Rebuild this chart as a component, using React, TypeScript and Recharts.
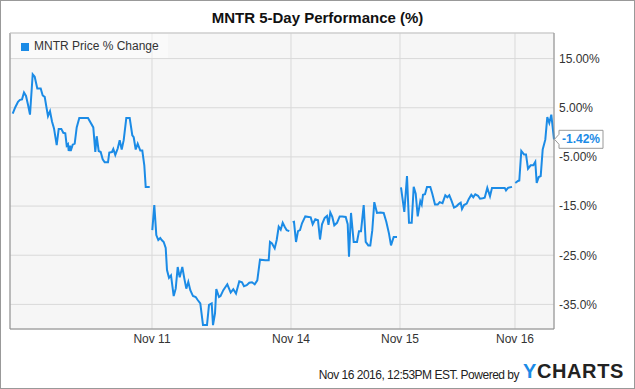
import React from 'react';
import { LineChart, Line, XAxis, YAxis, CartesianGrid, ReferenceLine, LabelList } from 'recharts';

// position along the session axis (sample index) and % change; null = session break
const times = [
  2.7, 5.3, 8, 10, 12, 14, 16, 18, 20, 22.7, 24.7, 27.3, 30.7, 32.7, 34.7, 36.7, 38, 40, 42, 44,
  46.7, 48.7, 51.3, 53.3, 55.3, 56.7, 58, 58.7, 60, 60.7, 62.7, 64.7, 66.7, 69.3, 78, 83.3, 85.3, 86.7, 88.7, 90.7,
  92.7, 94.7, 98, 99.3, 102, 103.3, 105.3, 107.7, 109.7, 111.7, 113.7, 116.3, 119.7, 122.3, 123.7, 125.7, 127.7, 130.3, 132.3, 134.3,
  135.7, 139.7, 141,
  142.3, 144.3, 146.3, 148.3, 150.3, 151.7, 153.7, 155.7, 157, 159, 161, 163.7, 165.7, 167.7, 169.7, 172.3, 174.3, 176.3, 178.3, 180.3,
  183, 185.7, 187.7, 190.3, 193, 197, 199, 201.7, 203, 205, 206.3, 209, 210.5, 213.3, 217.3, 220.7, 223.3, 226, 229.3, 232,
  234, 236.7, 239.3, 242, 244.7, 247.3, 250, 255.3, 258.7, 260, 262, 264.7, 266.7, 268.7, 270.7, 272.7, 274.7, 276.7, 279.3, 281,
  282.7, 284, 286, 288, 290, 292, 295.3, 298.7, 300.7, 302.7, 305.3, 308, 310, 312, 314.7, 317, 318.5, 320.3, 322.3, 324.3,
  327, 329.7, 332.3, 335.7, 337.7, 339, 341, 343.7, 347, 349, 351, 353.7, 355.7, 358.3, 360.3, 362.3, 364.3, 367, 370.3, 373.7,
  376.3, 379, 381, 383.7, 387, 389,
  391, 394.3, 397, 399, 401.7, 403.7, 405.7, 407.7, 410.3, 411.7, 413, 415, 417, 420.3, 422.3, 425, 427.7, 429.7, 432.5, 435.3,
  437.3, 439.3, 441.3, 444, 446.7, 448.7, 450.7, 452, 454, 456.7, 458.7, 461.3, 463.3, 465.3, 468, 470, 472.7, 474.7, 477.3, 480,
  482, 494.7, 496, 498, 502, 504,
  505.3, 508, 509.3, 511.3, 514, 516, 518, 520.7, 523.3, 525.3, 526.7, 528.7, 530.7, 532.7, 535.3, 537.3, 539.3, 541.3, 544,
];

const pctChange = [
  3.8, 5.1, 6.2, 6.6, 6.7, 8.1, 7.4, 5.6, 3.6, 11.8, 11.3, 8.9, 8.9, 7.5, 7.2, 4.8, 3.3, 4.3, 2.2, 0.8,
  -2.6, 0.7, 0.7, -0.1, -0.2, -2.7, -2.4, -3.8, -2.7, -3.8, -2.5, -2.3, 1.0, 2.9, 2.9, 1.0, -4.0, -0.8, -3.8, -4.0,
  -5.5, -6.1, -6.1, -4.1, -4.0, -3.4, -4.6, -3.3, -1.6, -3.5, -1.6, 2.9, 2.9, -0.6, -1.0, -3.5, -2.3, -3.7, -3.7, -6.7,
  -11.1, -11.1, null,
  -19.9, -14.8, -20.9, -21.9, -21.5, -21.9, -22.3, -23.5, -28.0, -29.6, -29.1, -33.3, -31.8, -27.4, -29.5, -27.4, -29.7, -31.8, -30.4, -32.1,
  -33.3, -33.5, -34.1, -34.8, -39.2, -39.2, -35.1, -34.8, -39.2, -36.8, -31.9, -33.5, -33.3, -32.1, -30.9, -32.6, -31.9, -32.8, -30.3, -30.5,
  -31.3, -31.1, -30.6, -30.5, -30.9, -30.1, -25.9, -26.0, -26.0, -22.3, -22.6, -23.6, -21.9, -19.2, -19.8, -18.4, -19.2, -19.9, -20.1, null,
  -18.3, -18.2, -22.3, -20.1, -19.9, -18.5, -17.1, -17.2, -17.3, -18.7, -17.7, -17.9, -21.8, -18.7, -17.4, -17.0, -18.8, -16.3, -17.2, -18.9,
  -18.4, -17.1, -17.1, -17.2, -18.7, -25.3, -16.4, -22.3, -22.3, -20.1, -20.1, -14.8, -22.3, -23.0, -23.0, -19.9, -14.2, -16.4, -16.3, -16.4,
  -18.2, -20.6, -23.0, -21.3, -21.3, null,
  -11.2, -16.2, -8.9, -18.4, -18.4, -11.1, -12.5, -17.1, -14.0, -14.7, -12.7, -12.6, -11.1, -11.1, -12.5, -14.7, -14.7, -14.2, -14.4, -12.8,
  -13.2, -12.8, -13.8, -15.3, -15.0, -14.6, -14.3, -15.6, -14.8, -14.5, -13.6, -12.7, -13.2, -12.6, -12.9, -13.5, -13.4, -13.3, -11.3, -13.0,
  -11.3, -11.3, -11.8, -11.3, -11.1, null,
  -10.3, -9.9, -9.8, -3.8, -4.5, -4.5, -7.4, -6.7, -6.7, -6.0, -10.3, -9.1, -8.9, -3.5, -1.5, 3.1, 1.9, 3.6, -1.42,
];

const xTicks = [142, 281, 390, 505];
const xTickLabels = ['Nov 11', 'Nov 14', 'Nov 15', 'Nov 16'];
const yTicks = [15, 5, -5, -15, -25, -35];
const yTickLabels = ['15.00%', '5.00%', '-5.00%', '-15.0%', '-25.0%', '-35.0%'];

const data = times.map((t, i) => ({ t, v: pctChange[i] }));

const BLUE = '#1b8be6';
const FONT = '"Liberation Sans", Arial, sans-serif';

function EndLabel(props: any) {
  const { x, y, index, value } = props;
  if (index !== data.length - 1 || value == null) return null;
  const x0 = x + 5;
  const w = 44;
  const h = 18;
  const top = y - h / 2;
  const path = `M${x0},${top} H${x0 + w} V${top + h} H${x0} V${y + 5} L${x + 0.5},${y} L${x0},${y - 5} Z`;
  return (
    <g>
      <path d={path} fill="#fff" stroke="#999" strokeWidth={1} />
      <text x={x0 + w / 2} y={y + 4} textAnchor="middle" fill={BLUE} fontWeight="bold" fontSize={12} fontFamily={FONT}>
        {value.toFixed(2)}%
      </text>
    </g>
  );
}

export default function App() {
  return (
    <div style={{ position: 'absolute', left: 0, top: 0, width: 635, height: 389, background: '#fff', fontFamily: FONT }}>
      <LineChart width={635} height={389} data={data} margin={{ top: 33, right: 6, left: 10, bottom: 30 }}>
        <CartesianGrid fill="#f6f6f6" stroke="#d9d9d9" />
        <XAxis
          dataKey="t"
          type="number"
          domain={[0, 544]}
          ticks={xTicks}
          tickFormatter={(v) => xTickLabels[xTicks.indexOf(v)]}
          height={30}
          tickLine={false}
          tickSize={3}
          tickMargin={2}
          axisLine={{ stroke: '#8a8a8a' }}
          tick={{ fill: '#333', fontSize: 12, fontFamily: FONT }}
        />
        <YAxis
          orientation="right"
          type="number"
          domain={[-40, 20.2]}
          allowDataOverflow
          ticks={yTicks}
          tickFormatter={(v) => yTickLabels[yTicks.indexOf(v)]}
          width={75}
          tickLine={false}
          tickSize={3}
          tickMargin={2}
          axisLine={{ stroke: '#8a8a8a' }}
          tick={{ fill: '#333', fontSize: 12, fontFamily: FONT }}
        />
        <ReferenceLine x={0} stroke="#8a8a8a" />
        <ReferenceLine y={20.2} stroke="#c8c8c8" />
        <Line
          dataKey="v"
          type="linear"
          stroke={BLUE}
          strokeWidth={2}
          dot={false}
          connectNulls={false}
          isAnimationActive={false}
        >
          <LabelList dataKey="v" content={EndLabel} />
        </Line>
      </LineChart>

      <div style={{ position: 'absolute', left: 0, top: 9, width: 635, textAlign: 'center', fontSize: 15, fontWeight: 'bold', color: '#111' }}>
        MNTR 5-Day Performance (%)
      </div>

      <div style={{ position: 'absolute', left: 11, top: 34, width: 157, height: 24, background: 'rgba(255,255,255,0.45)' }}>
        <div style={{ position: 'absolute', left: 10, top: 9, width: 8, height: 8, background: BLUE }} />
        <div style={{ position: 'absolute', left: 23, top: 5, fontSize: 12, color: '#333', whiteSpace: 'nowrap' }}>
          MNTR Price % Change
        </div>
      </div>

      <div style={{ position: 'absolute', right: 116, top: 368, fontSize: 12, letterSpacing: -0.5, color: '#222', whiteSpace: 'nowrap' }}>
        Nov 16 2016, 12:53PM EST. Powered by
      </div>
      <div style={{ position: 'absolute', left: 523, top: 360, fontSize: 20, fontWeight: 'bold', letterSpacing: 0.6, color: '#222', whiteSpace: 'nowrap' }}>
        <span style={{ color: BLUE }}>Y</span>CHARTS
      </div>

      <div style={{ position: 'absolute', left: 0, top: 0, width: 635, height: 389, boxSizing: 'border-box', border: '1px solid #999', pointerEvents: 'none' }} />
    </div>
  );
}
